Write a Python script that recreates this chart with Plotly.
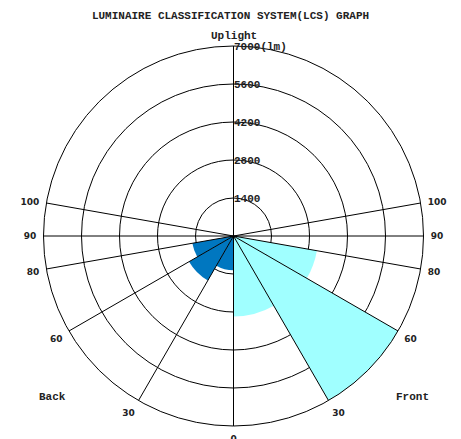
import plotly.graph_objects as go

# LCS zones: (name, start angle, end angle) measured from nadir
front_zones = ["FL", "FM", "FH", "FVH"]
back_zones = ["BL", "BM", "BH", "BVH"]
up_zones = ["UL", "UH"]
zone_start = [0, 30, 60, 80]
zone_end = [30, 60, 80, 90]
up_start = [90, 100]
up_end = [100, 180]

# lumens per zone
front_lm = [2970, 7000, 3120, 0]
back_lm = [1265, 1890, 1540, 0]
up_lm = [0, 0]

radial_ticks = [1400, 2800, 4200, 5600, 7000]
radial_text = ["1400", "2800", "4200", "5600", "7000(lm)"]
angle_marks = [0, 30, 60, 80, 90, 100]
angle_text = ["0", "30", "60", "80", "90", "100"]
r_max = 7000

FRONT_COLOR = "#A0FFFF"
BACK_COLOR = "#0077C0"
MONO = "Liberation Mono, Courier New, monospace"
SANS = "DejaVu Sans, Verdana, sans-serif"

fig = go.Figure()

def sectors(values, starts, ends, mirror):
    theta, width = [], []
    for s, e in zip(starts, ends):
        mid = (s + e) / 2
        theta.append(360 - mid if mirror else mid)
        width.append(e - s)
    return theta, width

t, w = sectors(front_lm, zone_start, zone_end, False)
fig.add_trace(go.Barpolar(r=front_lm, theta=t, width=w, marker_color=FRONT_COLOR,
                          marker_line_width=0, name="Front", hoverinfo="skip"))
t, w = sectors(back_lm, zone_start, zone_end, True)
fig.add_trace(go.Barpolar(r=back_lm, theta=t, width=w, marker_color=BACK_COLOR,
                          marker_line_width=0, name="Back", hoverinfo="skip"))
for mirror in (False, True):
    t, w = sectors(up_lm, up_start, up_end, mirror)
    fig.add_trace(go.Barpolar(r=up_lm, theta=t, width=w, marker_color=FRONT_COLOR,
                              marker_line_width=0, hoverinfo="skip"))

# zone boundary spokes drawn over the filled sectors
spoke_angles = sorted(set(angle_marks + [180] + [360 - a for a in angle_marks if a > 0]))
for a in spoke_angles:
    fig.add_trace(go.Scatterpolar(r=[0, r_max], theta=[a, a], mode="lines",
                                  line=dict(color="black", width=1),
                                  hoverinfo="skip", showlegend=False))

tick_vals = angle_marks + [180] + [360 - a for a in angle_marks if a > 0]
tick_txt = angle_text + [""] + [s for a, s in zip(angle_marks, angle_text) if a > 0]

label_font = dict(family=MONO, size=11, color="#222")

fig.update_layout(
    width=461, height=439,
    margin=dict(l=0, r=0, t=0, b=0),
    paper_bgcolor="white",
    showlegend=False,
    barmode="overlay",
    title=dict(text="<b>LUMINAIRE CLASSIFICATION SYSTEM(LCS) GRAPH</b>",
               font=dict(family=MONO, size=11, color="#222"),
               x=0.5, xanchor="center", y=1 - 15 / 439, yanchor="middle"),
    polar=dict(
        domain=dict(x=[43.5 / 461, 423.5 / 461], y=[13 / 439, 393 / 439]),
        bgcolor="white",
        radialaxis=dict(range=[0, r_max], tickvals=radial_ticks, ticktext=radial_text,
                        showline=False, ticks="", angle=90, side="clockwise",
                        tickangle=90,
                        gridcolor="black", gridwidth=1,
                        tickfont=dict(family=MONO, size=11, color="#222", weight="bold")),
        angularaxis=dict(rotation=-90, direction="counterclockwise",
                         tickmode="array", tickvals=tick_vals, ticktext=tick_txt,
                         showgrid=False, showline=True, linecolor="black", linewidth=1,
                         ticks="outside", ticklen=5, tickcolor="rgba(0,0,0,0)",
                         tickfont=dict(family=SANS, size=9, color="#222", weight="bold")),
    ),
    annotations=[
        dict(text="<b>Uplight</b>", x=234 / 461, y=1 - 36 / 439, xref="paper", yref="paper",
             xanchor="center", yanchor="middle", showarrow=False, font=label_font),
        dict(text="<b>Back</b>", x=52 / 461, y=1 - 397 / 439, xref="paper", yref="paper",
             xanchor="center", yanchor="middle", showarrow=False, font=label_font),
        dict(text="<b>Front</b>", x=412 / 461, y=1 - 397 / 439, xref="paper", yref="paper",
             xanchor="center", yanchor="middle", showarrow=False, font=label_font),
    ],
)

fig.write_html("out.html")
